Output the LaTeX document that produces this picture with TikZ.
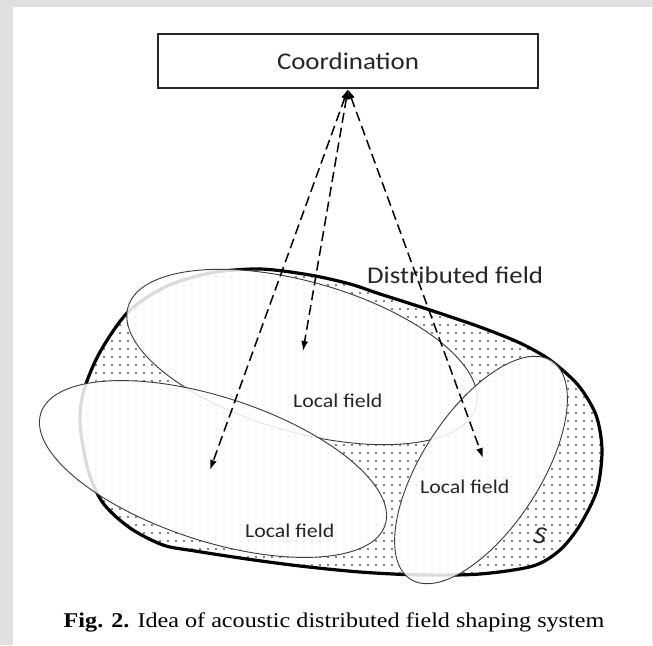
\documentclass[tikz,border=0pt]{standalone}
\usepackage{fontspec}
\setmainfont{Liberation Serif}[FakeStretch=1.15]
\newfontfamily\calfont{Carlito}[FakeStretch=1.12]
\usetikzlibrary{arrows.meta,shapes.geometric,patterns.meta}
\definecolor{panelgrey}{HTML}{E0E0E0}
\definecolor{inkgrey}{HTML}{3A3A3A}
\begin{document}
\begin{tikzpicture}[x=1pt,y=-1pt,
  field/.style={ellipse, draw=inkgrey, line width=0.9pt, fill=white, fill opacity=0.86, draw opacity=1, inner sep=0pt},
  lbl/.style={font=\calfont\fontsize{19.5}{22}\selectfont, text=black!85, anchor=base west, inner sep=0pt},
  biglbl/.style={font=\calfont\fontsize{24}{28}\selectfont, text=black!85},
  link/.style={dash pattern=on 10pt off 5pt, line width=1.5pt, {Latex[length=10pt,width=7pt]}-{Latex[length=10pt,width=7pt]}},
  blob/.style={line width=3.2pt, pattern={Dots[distance=8pt,radius=0.8pt]}, pattern color=black}
]
\fill[panelgrey] (0,0) rectangle (653,645);
\fill[white] (13,6.5) rectangle (651.5,645);
\useasboundingbox (0,0) rectangle (653,645);

% distributed field
\draw[blob] plot[smooth cycle, tension=0.5] coordinates {
 (80,423) (84,390) (100,352) (128,312) (165,287) (210,273) (260,269) (310,275)
 (350,284) (380,294) (430,310) (480,327) (520,343) (550,360) (578,385) (596,415)
 (602,450) (597,490) (580,525) (560,550) (533,566) (480,574) (420,575) (360,572)
 (300,566) (247,559) (195,551) (163,545) (130,528) (103,503) (88,470)};

% local fields
\node[field, minimum width=362pt, minimum height=150pt, rotate=-16] (up) at (302,357) {};
\node[field, minimum width=362pt, minimum height=144pt, rotate=-18] (lo) at (213,469) {};
\node[field, minimum width=260pt, minimum height=118pt, rotate=57] (ri) at (481,470) {};

% labels
\node[lbl] (lup) at (293,407) {Local field};
\node[lbl] (llo) at (245,537) {Local field};
\node[lbl] (lri) at (420,493) {Local field};
\node[biglbl, anchor=base west, inner sep=0pt] (dist) at (367,283) {Distributed field};
\node[font=\calfont\itshape\fontsize{25}{28}\selectfont, text=black!85, rotate=-10, inner sep=0pt] (s) at (540,536) {S};

% coordination
\node[biglbl, draw=black!85, line width=2pt, minimum width=380pt, minimum height=54pt] (coord) at (348,61) {Coordination};

% links
\coordinate (tA) at (303,351);
\coordinate (tB) at (210,470);
\coordinate (tC) at (483,458);
\draw[link] (coord.south) -- (tA);
\draw[link] (coord.south) -- (tB);
\draw[link] (coord.south) -- (tC);

% caption
\node[anchor=base, inner sep=0pt, font=\fontsize{21}{24}\selectfont] (cap) at (334,627) {\textbf{Fig. 2.} Idea of acoustic distributed field shaping system};
\end{tikzpicture}
\end{document}
